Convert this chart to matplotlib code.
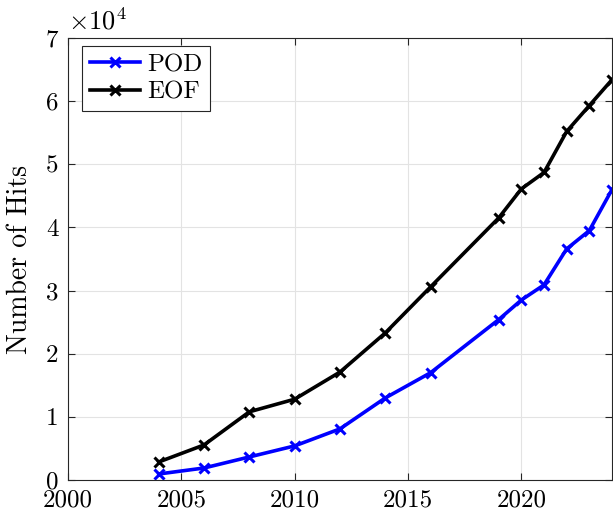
import numpy as np
import matplotlib
matplotlib.use('Agg')
import matplotlib.pyplot as plt

years = [2004, 2006, 2008, 2010, 2012, 2014, 2016, 2019, 2020, 2021, 2022, 2023, 2024]
pod_hits = [950, 1900, 3650, 5400, 8100, 13000, 17000, 25400, 28500, 30900, 36600, 39500, 46000]
eof_hits = [2850, 5550, 10800, 12800, 17100, 23300, 30600, 41500, 46100, 48700, 55200, 59300, 63400]

plt.rcParams['font.family'] = 'serif'
plt.rcParams['font.serif'] = ['cmr10']
plt.rcParams['mathtext.fontset'] = 'cm'
plt.rcParams['axes.unicode_minus'] = False

fig = plt.figure(figsize=(6.13, 5.14), dpi=100)
ax = fig.add_axes([68 / 613, 34 / 514, 544 / 613, 442 / 514])

scale = 1e4
ax.plot(years, np.array(pod_hits) / scale, color='blue', lw=2.6, marker='x',
        ms=6.5, mew=2.2, label='POD')
ax.plot(years, np.array(eof_hits) / scale, color='black', lw=2.6, marker='x',
        ms=6.5, mew=2.2, label='EOF')

ax.set_xlim(2000, 2024)
ax.set_ylim(0, 7)
ax.set_xticks([2000, 2005, 2010, 2015, 2020])
ax.set_yticks(range(0, 8))
ax.grid(True, color='#e3e3e3', lw=0.8)
ax.set_axisbelow(True)
ax.tick_params(direction='in', top=True, right=True, labelsize=18, length=5,
               color='#262626', width=0.8)
ax.tick_params(axis='y', pad=7)
ax.tick_params(axis='x', pad=7)
for s in ax.spines.values():
    s.set_color('#262626')
    s.set_linewidth(0.8)

ax.set_ylabel('Number of Hits', fontsize=20, labelpad=9)
ax.text(0.0, 1.008, r'$\times10^{4}$', transform=ax.transAxes, fontsize=19,
        ha='left', va='bottom')

leg = ax.legend(loc='upper left', fontsize=18, handlelength=2.0,
                handletextpad=0.3, borderpad=0.3, labelspacing=0.2,
                fancybox=False, framealpha=1, borderaxespad=0,
                bbox_to_anchor=(14 / 544, 1 - 8 / 442))
leg.get_frame().set_edgecolor('#262626')
leg.get_frame().set_linewidth(0.8)

fig.savefig('out.png', dpi=100)
